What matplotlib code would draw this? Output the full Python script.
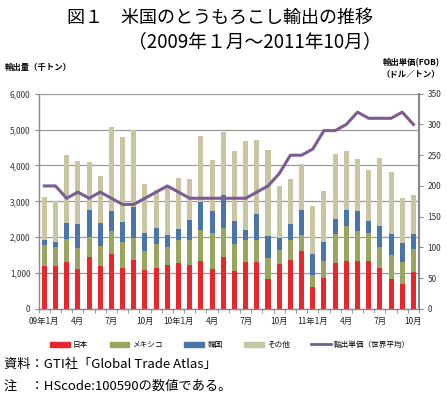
#!/usr/bin/env python3
import matplotlib
matplotlib.use("Agg")
import matplotlib.pyplot as plt
from matplotlib.patches import Patch
from matplotlib.lines import Line2D
import numpy as np

plt.rcParams["font.family"] = ["Noto Sans CJK JP", "DejaVu Sans"]

# monthly data, Jan 2009 - Oct 2011 (thousand tons)
japan = [1200, 1200, 1310, 1120, 1440, 1200, 1530, 1140, 1360, 1100, 1130, 1220,
         1290, 1220, 1350, 1120, 1440, 1070, 1310, 1310, 840, 1250, 1360, 1620,
         600, 860, 1290, 1340, 1340, 1340, 1140, 830, 700, 1030]
mexico = [570, 540, 630, 580, 560, 560, 640, 730, 610, 520, 670, 510,
          620, 700, 860, 1010, 830, 730, 600, 610, 590, 400, 570, 450,
          360, 480, 810, 980, 820, 790, 600, 670, 610, 650]
korea = [150, 120, 460, 660, 750, 630, 550, 550, 860, 490, 460, 340,
         330, 570, 760, 590, 920, 650, 300, 740, 610, 330, 440, 690,
         570, 520, 420, 450, 570, 330, 570, 580, 540, 420]
others = [1210, 1140, 1880, 1760, 1350, 1320, 2360, 2370, 2170, 1380, 1060, 1340,
          1420, 1140, 1840, 1440, 1750, 1940, 2460, 2050, 2380, 1460, 1260, 1280,
          1340, 1420, 1810, 1620, 1440, 1410, 1910, 1750, 1240, 1080]
# export unit price, world average (USD/ton FOB)
price = [200, 200, 180, 190, 180, 190, 180, 170, 170, 180, 190, 200,
         190, 180, 180, 180, 180, 180, 180, 190, 200, 220, 250, 250,
         260, 290, 290, 300, 320, 310, 310, 310, 320, 300]
tick_labels = ["09年1月", "4月", "7月", "10月", "10年1月", "4月", "7月", "10月",
               "11年1月", "4月", "7月", "10月"]

C_JP = "#e8262b"
C_MX = "#9aa65e"
C_KR = "#4a75a8"
C_OT = "#c9c4a2"
C_LINE = "#7d5b93"
GRID = "#9a9a9a"

fig = plt.figure(figsize=(4.47, 3.99), dpi=100)
ax = fig.add_axes([0.0866, 0.2256, 0.8508, 0.5396])

x = np.arange(len(japan))
w = 0.45
b1 = np.array(japan)
b2 = b1 + np.array(mexico)
b3 = b2 + np.array(korea)
ax.bar(x, japan, w, color=C_JP, zorder=2)
ax.bar(x, mexico, w, bottom=b1, color=C_MX, zorder=2)
ax.bar(x, korea, w, bottom=b2, color=C_KR, zorder=2)
ax.bar(x, others, w, bottom=b3, color=C_OT, zorder=2)

ax.set_xlim(-0.5, len(japan) - 0.5)
ax.set_ylim(0, 6000)
ax.set_yticks(range(0, 6001, 1000))
ax.set_yticklabels([f"{v:,}" for v in range(0, 6001, 1000)])
ax.yaxis.grid(True, color=GRID, linewidth=0.9, zorder=0)
ax.set_axisbelow(True)
ax.set_xticks(np.arange(0, len(japan), 3))
ax.set_xticklabels(tick_labels)
ax.set_xticks(np.arange(-0.5, len(japan), 1), minor=True)
ax.tick_params(axis="x", which="major", length=0, labelsize=6, pad=6, colors="#222222")
ax.tick_params(axis="x", which="minor", length=3, color="#888888", direction="out")
ax.tick_params(axis="y", length=3, color="#888888", labelsize=6, colors="#333333", pad=3)
for s in ["left", "bottom"]:
    ax.spines[s].set_color("#888888")
    ax.spines[s].set_linewidth(1.0)
ax.spines["top"].set_visible(False)
ax.spines["right"].set_visible(False)

ax2 = ax.twinx()
ax2.plot(x, price, color=C_LINE, linewidth=2.2, zorder=3)
ax2.set_ylim(0, 350)
ax2.set_yticks(range(0, 351, 50))
ax2.tick_params(axis="y", length=3, color="#888888", labelsize=6, colors="#333333", pad=3)
ax2.spines["right"].set_color("#888888")
ax2.spines["right"].set_linewidth(1.5)
for s in ["left", "top", "bottom"]:
    ax2.spines[s].set_visible(False)

# axis titles
fig.text(0.011, 0.832, "輸出量（千トン）", fontsize=6, fontweight="bold", ha="left", va="center")
fig.text(0.985, 0.843, "輸出単価(FOB)", fontsize=6, fontweight="bold", ha="right", va="center")
fig.text(0.985, 0.812, "（ドル／トン）", fontsize=6, fontweight="bold", ha="right", va="center")

# title
fig.text(0.492, 0.955, "図１　米国のとうもろこし輸出の推移", fontsize=13, ha="center", va="center")
fig.text(0.57, 0.895, "（2009年１月～2011年10月）", fontsize=13.5, ha="center", va="center")

# legend
handles = [Patch(color=C_JP), Patch(color=C_MX), Patch(color=C_KR), Patch(color=C_OT),
           Line2D([0], [0], color=C_LINE, linewidth=2)]
labels = ["日本", "メキシコ", "韓国", "その他", "輸出単価（世界平均）"]
fig.legend(handles, labels, loc="center", bbox_to_anchor=(0.515, 0.135), ncol=5,
           frameon=False, fontsize=5.5, handlelength=2.6, handleheight=0.7,
           columnspacing=2.8, handletextpad=0.4)

# notes
fig.text(0.01, 0.087, "資料：GTI社「Global Trade Atlas」", fontsize=9.5, ha="left", va="center")
fig.text(0.01, 0.032, "注　：HScode:100590の数値である。", fontsize=9.5, ha="left", va="center")

fig.savefig("out.png", dpi=100)
